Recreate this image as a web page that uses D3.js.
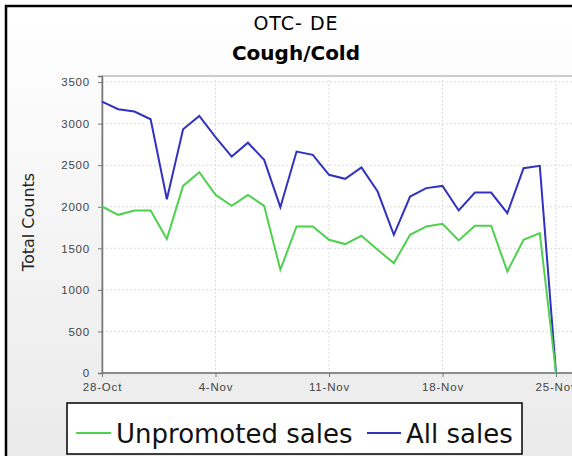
<!DOCTYPE html>
<html>
<head>
<meta charset="utf-8">
<script src="https://cdn.jsdelivr.net/npm/d3@7"></script>
<style>
  body { margin: 0; background: #ffffff; }
  svg { display: block; font-family: "DejaVu Sans", sans-serif; }
</style>
</head>
<body>
<div id="graph"></div>
<script>
// Data
const days = ["2007-10-28","2007-10-29","2007-10-30","2007-10-31","2007-11-01","2007-11-02","2007-11-03",
    "2007-11-04","2007-11-05","2007-11-06","2007-11-07","2007-11-08","2007-11-09","2007-11-10",
    "2007-11-11","2007-11-12","2007-11-13","2007-11-14","2007-11-15","2007-11-16","2007-11-17",
    "2007-11-18","2007-11-19","2007-11-20","2007-11-21","2007-11-22","2007-11-23","2007-11-24",
    "2007-11-25"];
const unpromotedSales = [2003,1903,1955,1955,1611,2251,2416,2143,2011,2143,2011,1242,1763,1763,
    1602,1551,1651,1482,1322,1662,1763,1795,1595,1771,1771,1222,1603,1683,0];
const allSales = [3265,3173,3145,3053,2091,2933,3093,2837,2604,2770,2564,1995,2664,2624,
    2384,2336,2472,2183,1662,2123,2224,2251,1955,2171,2171,1923,2464,2492,0];
const yTicks = [0,500,1000,1500,2000,2500,3000,3500];
const xTickDays = ["2007-10-28","2007-11-04","2007-11-11","2007-11-18","2007-11-25"];
const xTickLabels = ["28-Oct","4-Nov","11-Nov","18-Nov","25-Nov"];
const seriesNames = ["Unpromoted sales","All sales"];

const width = 572, height = 456;
const plot = {left: 102, top: 76, right: 620, bottom: 373};
const green = "#4fd04f", blue = "#3232c0";

let svg = d3.select("#graph")
    .append("svg")
    .attr("width", width)
    .attr("height", height);

// chart background with a soft gradient, framed in black
let grad = svg.append("defs").append("linearGradient")
    .attr("id", "bg").attr("x1", 0).attr("y1", 0).attr("x2", 0).attr("y2", 1);
grad.append("stop").attr("offset", "0%").attr("stop-color", "#ffffff");
grad.append("stop").attr("offset", "100%").attr("stop-color", "#e3e3e3");

svg.append("rect")
    .attr("x", 6).attr("y", 6)
    .attr("width", 700).attr("height", 600)
    .attr("fill", "url(#bg)")
    .attr("stroke", "#000").attr("stroke-width", 2.5);

// scales
let parse = d3.utcParse("%Y-%m-%d");
let x = d3.scaleUtc()
    .domain([parse(days[0]), parse(days[days.length - 1])])
    .range([102, 556]);
let y = d3.scaleLinear()
    .domain([0, 3573])
    .range([plot.bottom, plot.top]);

// plot area
svg.append("rect")
    .attr("x", plot.left).attr("y", plot.top)
    .attr("width", plot.right - plot.left).attr("height", plot.bottom - plot.top)
    .attr("fill", "#ffffff")
    .attr("stroke", "#999").attr("stroke-width", 1);

// gridlines
svg.append("g").selectAll("line").data(yTicks.slice(1))
    .enter().append("line")
    .attr("x1", plot.left).attr("x2", plot.right)
    .attr("y1", d => y(d)).attr("y2", d => y(d))
    .attr("stroke", "#dcdcdc").attr("stroke-dasharray", "2,2");
svg.append("g").selectAll("line").data(xTickDays.slice(1))
    .enter().append("line")
    .attr("x1", d => x(parse(d))).attr("x2", d => x(parse(d)))
    .attr("y1", plot.top).attr("y2", plot.bottom)
    .attr("stroke", "#dcdcdc").attr("stroke-dasharray", "2,2");

// axes
let yAxis = svg.append("g")
    .attr("transform", `translate(${plot.left}, 0)`)
    .call(d3.axisLeft(y).tickValues(yTicks).tickFormat(d3.format("d"))
        .tickSize(4).tickPadding(8));
let xAxis = svg.append("g")
    .attr("transform", `translate(0, ${plot.bottom})`)
    .call(d3.axisBottom(x).tickValues(xTickDays.map(parse))
        .tickFormat((d, i) => xTickLabels[i]).tickSize(4).tickPadding(6));
xAxis.select(".domain").attr("d", `M${plot.left},0H${plot.right}`);

[xAxis, yAxis].forEach(function(ax) {
    ax.select(".domain").attr("stroke", "#777").attr("stroke-width", 1.5);
    ax.selectAll(".tick line").attr("stroke", "#777");
    ax.selectAll(".tick text")
        .attr("fill", "#444")
        .style("font-size", "11.5px")
        .style("letter-spacing", "0.8px");
});

// lines (All sales first so unpromoted sits on top)
let line = d3.line()
    .x((d, i) => x(parse(days[i])))
    .y(d => y(d));

svg.append("path")
    .datum(allSales)
    .attr("d", line)
    .attr("fill", "none")
    .attr("stroke", blue)
    .attr("stroke-width", 2);

svg.append("path")
    .datum(unpromotedSales)
    .attr("d", line)
    .attr("fill", "none")
    .attr("stroke", green)
    .attr("stroke-width", 2);

// titles
svg.append("text")
    .attr("x", 296).attr("y", 30)
    .style("text-anchor", "middle")
    .style("font-size", "19px")
    .style("letter-spacing", "1px")
    .text("OTC- DE");

svg.append("text")
    .attr("x", 296).attr("y", 60)
    .style("text-anchor", "middle")
    .style("font-size", "20px")
    .style("font-weight", "bold")
    .text("Cough/Cold");

svg.append("text")
    .attr("transform", `translate(34, 222) rotate(-90)`)
    .style("text-anchor", "middle")
    .style("font-size", "16px")
    .attr("fill", "#222")
    .text("Total Counts");

// legend
svg.append("rect")
    .attr("x", 67).attr("y", 403)
    .attr("width", 455).attr("height", 51)
    .attr("fill", "#ffffff")
    .attr("stroke", "#000").attr("stroke-width", 1.5);

let legendItems = [
    {name: seriesNames[0], color: green, x1: 76, x2: 111, tx: 116},
    {name: seriesNames[1], color: blue, x1: 367, x2: 401, tx: 406}
];
let legend = svg.append("g");
legend.selectAll("line").data(legendItems)
    .enter().append("line")
    .attr("x1", d => d.x1).attr("x2", d => d.x2)
    .attr("y1", 433).attr("y2", 433)
    .attr("stroke", d => d.color).attr("stroke-width", 2);
legend.selectAll("text").data(legendItems)
    .enter().append("text")
    .attr("x", d => d.tx).attr("y", 443)
    .style("font-size", "26px")
    .attr("fill", "#111")
    .text(d => d.name);
</script>
</body>
</html>
